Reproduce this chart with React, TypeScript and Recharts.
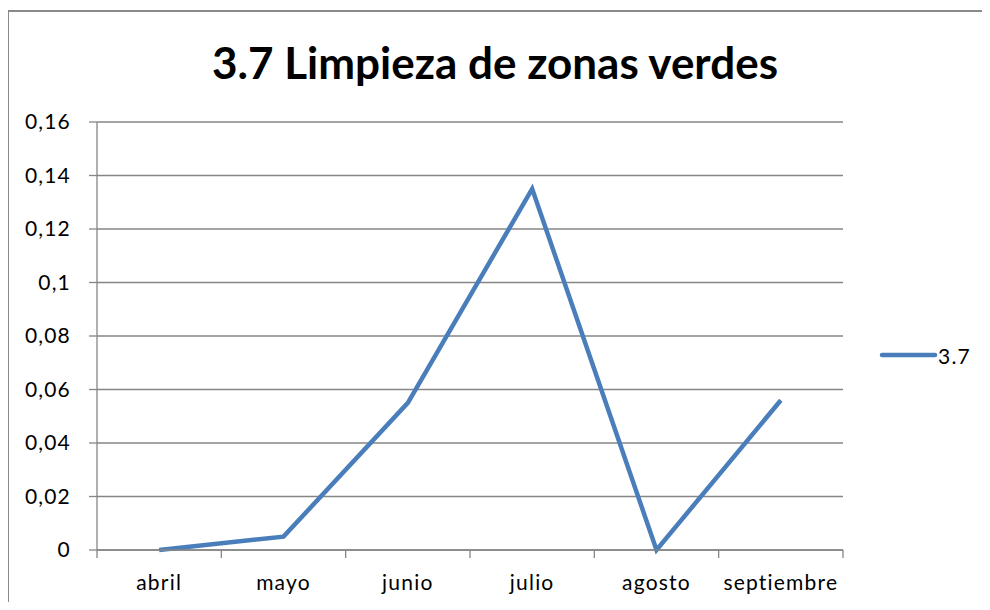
import React from 'react';
import { LineChart, Line, XAxis, YAxis, CartesianGrid, Legend } from 'recharts';

const meses = ['abril', 'mayo', 'junio', 'julio', 'agosto', 'septiembre'];
const valores = [0, 0.005, 0.055, 0.135, 0, 0.056];
const yTicks = [0, 0.02, 0.04, 0.06, 0.08, 0.1, 0.12, 0.14, 0.16];

const data = meses.map((mes, i) => ({ mes, v: valores[i] }));

const FONT = 'Lato, "Open Sans", sans-serif';
const GRID = '#868686';
const BLUE = '#4a7ebb';
const LBL = 21;

const fmt = (v: number) => String(v).replace('.', ',');

// category labels centred, tick marks on the band edges
function MonthTick(props: any) {
  const { x, y, payload, index } = props;
  const half = payload?.offset ?? 0;
  return (
    <g>
      <line x1={x - half} x2={x - half} y1={y - 8} y2={y} stroke={GRID} strokeWidth={1.3} />
      {index === meses.length - 1 && (
        <line x1={x + half} x2={x + half} y1={y - 8} y2={y} stroke={GRID} strokeWidth={1.3} />
      )}
      <text
        x={x}
        y={y + 25}
        dy="0.355em"
        textAnchor="middle"
        fontSize={LBL}
        fontFamily={FONT}
        fill="#000"
        style={{ letterSpacing: 1.2 }}
      >
        {payload.value}
      </text>
    </g>
  );
}

function LegendBox() {
  return (
    <div style={{ display: 'flex', alignItems: 'center', height: 30, fontFamily: FONT, fontSize: LBL, letterSpacing: 1.2 }}>
      <svg width={60} height={30}>
        <line x1={3} x2={56} y1={15} y2={15} stroke={BLUE} strokeWidth={4.5} strokeLinecap="round" />
      </svg>
      <span style={{ marginLeft: -1 }}>3.7</span>
    </div>
  );
}

const frameLine: React.CSSProperties = { position: 'absolute', background: '#8a8a8a', pointerEvents: 'none' };

export default function App() {
  return (
    <div style={{ position: 'relative', margin: -8, width: 990, height: 610, background: '#fff' }}>
      <div
        style={{
          position: 'absolute',
          left: 0,
          top: 36,
          width: 990,
          textAlign: 'center',
          fontFamily: FONT,
          fontWeight: 700,
          fontSize: 44,
          lineHeight: '52px',
          color: '#000',
        }}
      >
        3.7 Limpieza de zonas verdes
      </div>
      <div style={{ position: 'absolute', left: 0, top: 0 }}>
        <LineChart width={990} height={610} data={data} margin={{ top: 122, right: 147, left: 0, bottom: 20 }}>
          <CartesianGrid vertical={false} stroke={GRID} strokeWidth={1.3} />
          <XAxis
            dataKey="mes"
            scale="band"
            height={40}
            interval={0}
            tickSize={8}
            tickMargin={0}
            tickLine={false}
            axisLine={{ stroke: GRID, strokeWidth: 1.3 }}
            tick={<MonthTick />}
          />
          <YAxis
            width={97}
            domain={[0, 0.16]}
            ticks={yTicks}
            interval={0}
            tickFormatter={fmt}
            tickSize={8}
            tickMargin={18}
            axisLine={{ stroke: GRID, strokeWidth: 1.3 }}
            tickLine={{ stroke: GRID, strokeWidth: 1.3 }}
            tick={{ fontSize: LBL, fontFamily: FONT, fill: '#000', style: { letterSpacing: 1.2 } }}
          />
          <Legend
            layout="horizontal"
            verticalAlign="middle"
            align="center"
            content={<LegendBox />}
            wrapperStyle={{ position: 'absolute', left: 879, top: 340, width: 100, height: 30 }}
          />
          <Line
            type="linear"
            dataKey="v"
            name="3.7"
            stroke={BLUE}
            strokeWidth={4.5}
            dot={false}
            activeDot={false}
            isAnimationActive={false}
          />
        </LineChart>
      </div>
      <div style={{ ...frameLine, left: 7, top: 10, width: 983, height: 2 }} />
      <div style={{ ...frameLine, left: 7, top: 10, width: 2, height: 600 }} />
    </div>
  );
}
